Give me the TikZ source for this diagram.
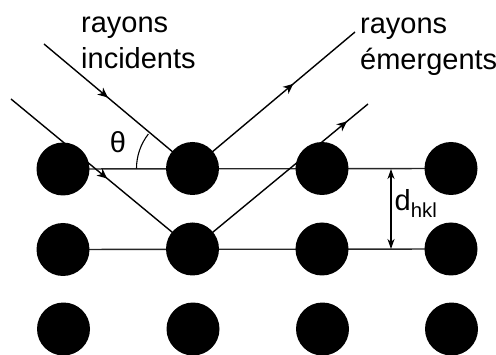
\documentclass[tikz,border=0pt]{standalone}
\usepackage{fontspec}
\setmainfont{Liberation Sans}
\usetikzlibrary{arrows.meta,decorations.markings}
\tikzset{
  atom/.style={circle,fill=black,inner sep=0pt,minimum size=53pt},
  plane/.style={line width=1.4pt,black!85},
  ray/.style={line width=1.4pt},
  midarrow/.style={postaction={decorate,decoration={markings,mark=at position #1 with {\arrow{Stealth[length=10pt,width=9pt,inset=3pt]}}}}},
  lbl/.style={inner sep=0pt,font=\fontsize{29}{36}\selectfont,align=left,anchor=base west}
}
\begin{document}
\begin{tikzpicture}[x=1pt,y=1pt]
\useasboundingbox (0,0) rectangle (496,354);
\coordinate (i1) at (44,310);
\coordinate (i2) at (11,255);
\coordinate (e1) at (355,322);
\coordinate (e2) at (368,250);
\coordinate (dtop) at (391,185);
\coordinate (dbot) at (391,105);
\path (63,185) coordinate (p11) (192.5,185.5) coordinate (p12) (322,185.5) coordinate (p13) (451,185.5) coordinate (p14)
      (63,104.5) coordinate (p21) (192.5,105) coordinate (p22) (322,105) coordinate (p23) (451,105) coordinate (p24)
      (63.5,25) coordinate (p31) (193,25) coordinate (p32) (322.5,25) coordinate (p33) (451.5,25) coordinate (p34);
\draw[plane] (p11) -- (p14);
\draw[plane] (p21) -- (p24);
\draw[ray,midarrow=0.43] (i1) -- (p12);
\draw[ray,midarrow=0.53] (i2) -- (p22);
\draw[ray,midarrow=0.62] (p12) -- (e1);
\draw[ray,midarrow=0.88] (p22) -- (e2);
\foreach \r in {1,2,3}\foreach \c in {1,2,3,4}{\node[atom] (c\r\c) at (p\r\c) {};}
\draw[line width=1.2pt,{Stealth[length=10pt,width=7pt,inset=3pt]}-{Stealth[length=10pt,width=7pt,inset=3pt]}] (dtop) -- (dbot);
\draw[line width=1.1pt] (136.5,185.5) arc[start angle=180,end angle=142,radius=56];
\node[lbl] (t1) at (81,285) {rayons\\incidents};
\node[lbl] (t2) at (360,284) {rayons\\émergents};
\node[inner sep=0pt,font=\fontsize{29}{34}\selectfont] (th) at (118,212) {θ};
\node[inner sep=0pt,font=\fontsize{29}{34}\selectfont,anchor=base west] (d) at (394.5,143) {d\textsubscript{hkl}};
\end{tikzpicture}
\end{document}
